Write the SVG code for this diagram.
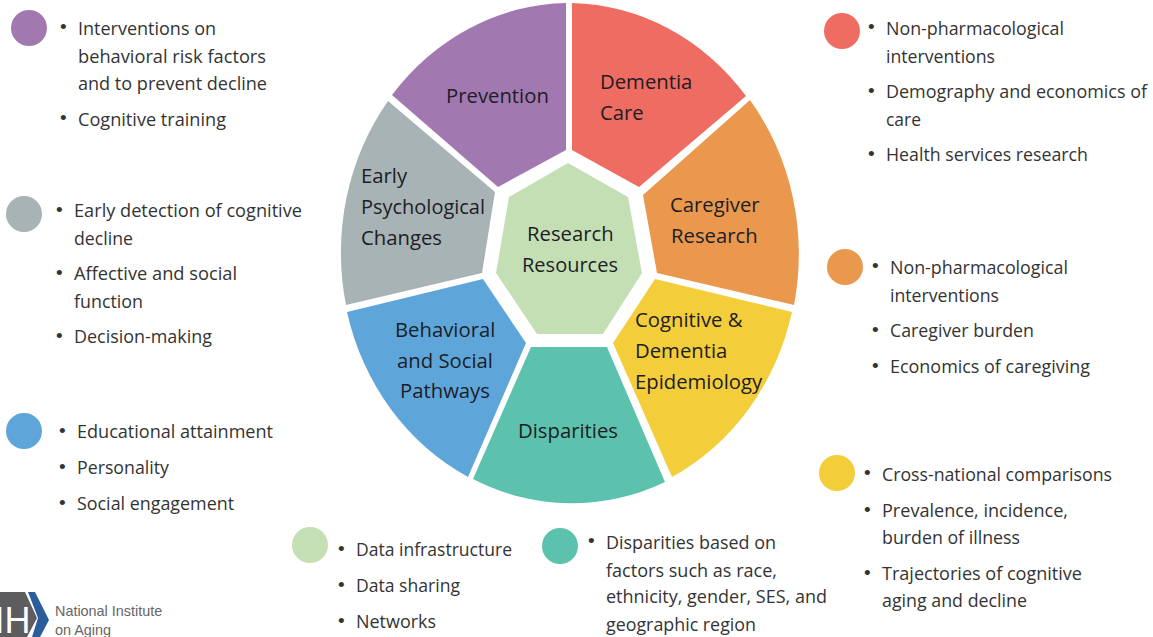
<svg xmlns="http://www.w3.org/2000/svg" width="1153" height="637" viewBox="0 0 1153 637">
<style>
text{font-family:"Open Sans","Noto Sans","Liberation Sans",sans-serif;fill:#1d1d26}
.w{font-size:20.3px}
.b{font-size:18.25px;fill:#333}
.d{font-size:19px;fill:#333;font-family:"Liberation Sans",sans-serif;transform:translate(1px,-1px)}
.l{font-family:"Liberation Sans",sans-serif;font-size:14.4px;fill:#666}
</style>
<rect width="1153" height="637" fill="#fff"/>
<g id="prevention"><path d="M566 3V150L498 187L392 95A230 250 0 0 1 566 3Z" fill="#a278b0"/><text class="w" x="446" y="102.5">Prevention</text></g>
<g id="dementia-care"><path d="M572 3A230 250 0 0 1 746 96L639 187L572 150Z" fill="#ee6c61"/><text class="w" x="600" y="88.5">Dementia</text><text class="w" x="600" y="119.5">Care</text></g>
<g id="caregiver-research"><path d="M750 100A230 250 0 0 1 794 305L657 273L643 195Z" fill="#e9984e"/><text class="w" x="670" y="211.5">Caregiver</text><text class="w" x="671" y="242.5">Research</text></g>
<g id="epidemiology"><path d="M655 279L792 312A230 250 0 0 1 672 477L613 343Z" fill="#f4cd3b"/><text class="w" x="635" y="326.5">Cognitive &amp;</text><text class="w" x="635" y="357.5">Dementia</text><text class="w" x="635" y="388.5">Epidemiology</text></g>
<g id="disparities"><path d="M531 347H607L665 482A230 250 0 0 1 473 479Z" fill="#5dc2ad"/><text class="w" x="518" y="437.5">Disparities</text></g>
<g id="behavioral"><path d="M483 279L526 343L468 477A230 250 0 0 1 347 312Z" fill="#5ea6da"/><text class="w" x="395" y="336.5">Behavioral</text><text class="w" x="397" y="367.5">and Social</text><text class="w" x="400" y="397.5">Pathways</text></g>
<g id="early-psych"><path d="M388 101L495 192L482 273L346 305A230 250 0 0 1 388 101Z" fill="#a7b3b4"/><text class="w" x="361" y="182.5">Early</text><text class="w" x="361" y="213.5" textLength="124" lengthAdjust="spacingAndGlyphs">Psychological</text><text class="w" x="361" y="244.5">Changes</text></g>
<g id="resources"><path d="M568 163L628 197L642 273L603 334H537L496 273L509 197Z" fill="#c5dfb4"/><text class="w" x="527" y="240.5">Research</text><text class="w" x="522" y="271.5" textLength="96" lengthAdjust="spacingAndGlyphs">Resources</text></g>
<g id="key-prevention"><circle cx="29" cy="28" r="18" fill="#a278b0"/>
<text class="d" x="59" y="34">•</text><text class="b" x="78" y="35" textLength="138" lengthAdjust="spacingAndGlyphs">Interventions on</text><text class="b" x="78" y="63" textLength="188" lengthAdjust="spacingAndGlyphs">behavioral risk factors</text><text class="b" x="78" y="90" textLength="189" lengthAdjust="spacingAndGlyphs">and to prevent decline</text><text class="d" x="59" y="125">•</text><text class="b" x="78" y="126" textLength="148" lengthAdjust="spacingAndGlyphs">Cognitive training</text></g>
<g id="key-early"><circle cx="24" cy="214" r="18" fill="#a7b3b4"/>
<text class="d" x="55" y="217">•</text><text class="b" x="74" y="217" textLength="228" lengthAdjust="spacingAndGlyphs">Early detection of cognitive</text><text class="b" x="74" y="245" textLength="59" lengthAdjust="spacingAndGlyphs">decline</text><text class="d" x="55" y="280">•</text><text class="b" x="74" y="280" textLength="163" lengthAdjust="spacingAndGlyphs">Affective and social</text><text class="b" x="74" y="308" textLength="69" lengthAdjust="spacingAndGlyphs">function</text><text class="d" x="55" y="343">•</text><text class="b" x="74" y="343" textLength="138" lengthAdjust="spacingAndGlyphs">Decision-making</text></g>
<g id="key-behavioral"><circle cx="24" cy="431" r="18" fill="#5ea6da"/>
<text class="d" x="58" y="438">•</text><text class="b" x="77" y="438" textLength="196" lengthAdjust="spacingAndGlyphs">Educational attainment</text><text class="d" x="58" y="474">•</text><text class="b" x="77" y="474" textLength="92" lengthAdjust="spacingAndGlyphs">Personality</text><text class="d" x="58" y="510">•</text><text class="b" x="77" y="510" textLength="157" lengthAdjust="spacingAndGlyphs">Social engagement</text></g>
<g id="key-resources"><circle cx="310" cy="545" r="18" fill="#c5dfb4"/>
<text class="d" x="337" y="556">•</text><text class="b" x="356" y="556" textLength="156" lengthAdjust="spacingAndGlyphs">Data infrastructure</text><text class="d" x="337" y="592">•</text><text class="b" x="356" y="592" textLength="104" lengthAdjust="spacingAndGlyphs">Data sharing</text><text class="d" x="337" y="628">•</text><text class="b" x="356" y="628" textLength="80" lengthAdjust="spacingAndGlyphs">Networks</text></g>
<g id="key-disparities"><circle cx="560" cy="546" r="18" fill="#5dc2ad"/>
<text class="d" x="587" y="548">•</text><text class="b" x="606" y="549" textLength="170" lengthAdjust="spacingAndGlyphs">Disparities based on</text><text class="b" x="606" y="577" textLength="171" lengthAdjust="spacingAndGlyphs">factors such as race,</text><text class="b" x="606" y="603" textLength="221" lengthAdjust="spacingAndGlyphs">ethnicity, gender, SES, and</text><text class="b" x="606" y="631" textLength="150" lengthAdjust="spacingAndGlyphs">geographic region</text></g>
<g id="key-epidemiology"><circle cx="837" cy="473" r="18" fill="#f4cd3b"/>
<text class="d" x="863" y="480">•</text><text class="b" x="882" y="481" textLength="230" lengthAdjust="spacingAndGlyphs">Cross-national comparisons</text><text class="d" x="863" y="517">•</text><text class="b" x="882" y="517" textLength="186" lengthAdjust="spacingAndGlyphs">Prevalence, incidence,</text><text class="b" x="882" y="544" textLength="138" lengthAdjust="spacingAndGlyphs">burden of illness</text><text class="d" x="863" y="580">•</text><text class="b" x="882" y="580" textLength="200" lengthAdjust="spacingAndGlyphs">Trajectories of cognitive</text><text class="b" x="882" y="607" textLength="145" lengthAdjust="spacingAndGlyphs">aging and decline</text></g>
<g id="key-caregiver"><circle cx="845" cy="267" r="18" fill="#e9984e"/>
<text class="d" x="871" y="273">•</text><text class="b" x="890" y="274" textLength="178" lengthAdjust="spacingAndGlyphs">Non-pharmacological</text><text class="b" x="890" y="302" textLength="109" lengthAdjust="spacingAndGlyphs">interventions</text><text class="d" x="871" y="337">•</text><text class="b" x="890" y="337" textLength="144" lengthAdjust="spacingAndGlyphs">Caregiver burden</text><text class="d" x="871" y="373">•</text><text class="b" x="890" y="373" textLength="200" lengthAdjust="spacingAndGlyphs">Economics of caregiving</text></g>
<g id="key-dementia"><circle cx="842" cy="31" r="18" fill="#ee6c61"/>
<text class="d" x="867" y="34">•</text><text class="b" x="886" y="35" textLength="178" lengthAdjust="spacingAndGlyphs">Non-pharmacological</text><text class="b" x="886" y="63" textLength="109" lengthAdjust="spacingAndGlyphs">interventions</text><text class="d" x="867" y="98">•</text><text class="b" x="886" y="98" textLength="261" lengthAdjust="spacingAndGlyphs">Demography and economics of</text><text class="b" x="886" y="126" textLength="35" lengthAdjust="spacingAndGlyphs">care</text><text class="d" x="867" y="161">•</text><text class="b" x="886" y="161" textLength="202" lengthAdjust="spacingAndGlyphs">Health services research</text></g>
<g id="nih-logo"><path d="M0 592H25L37 618L27 637H0Z" fill="#5d5d60"/><path d="M28 592H35L49 620L40 637H32L38 618Z" fill="#2b5c9c"/><text x="-5.5" y="633" style="font-family:'Liberation Sans',sans-serif;font-size:36px;fill:#fff">IH</text>
<text class="l" x="55" y="616">National Institute</text><text class="l" x="55" y="635">on Aging</text></g>
</svg>
